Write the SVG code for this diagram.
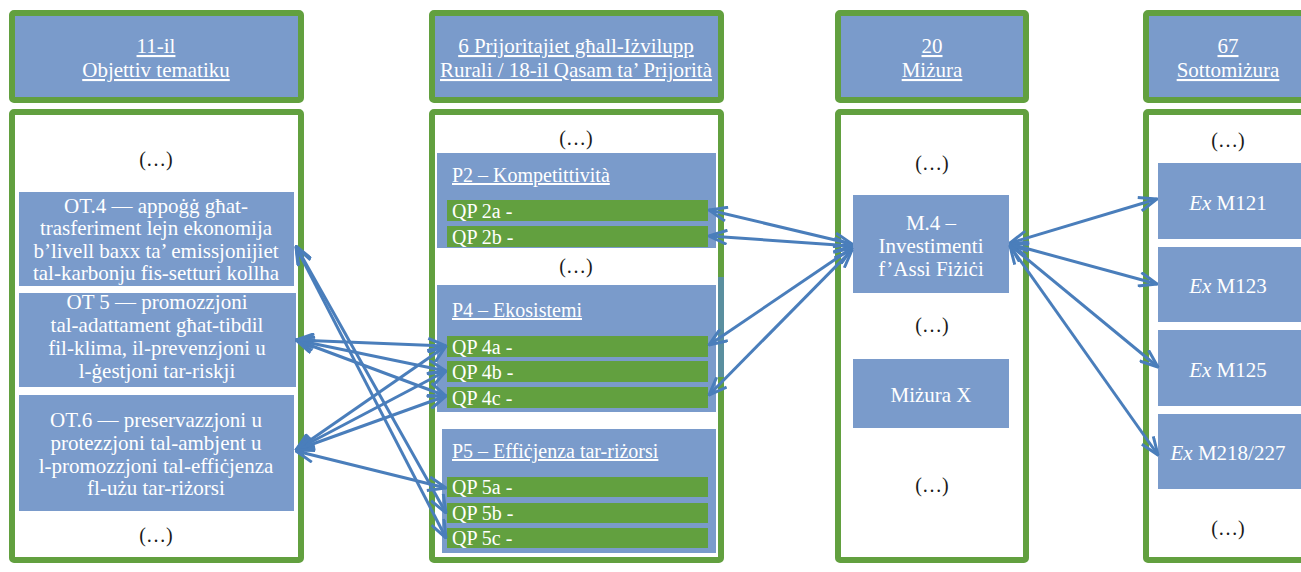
<svg xmlns="http://www.w3.org/2000/svg" width="1301" height="572" viewBox="0 0 1301 572">
<defs>
<style>
.hdr{fill:#7a9bcb;stroke:#62a03f;stroke-width:6}
.pan{fill:#ffffff;stroke:#62a03f;stroke-width:6}
.blu{fill:#7a9bcb}
.bar{fill:#62a03f}
.t{font-family:"Liberation Serif","Times New Roman",serif;font-size:21px;fill:#ffffff}
.c{text-anchor:middle}
.u{text-decoration:underline}
.q{font-family:"Liberation Serif","Times New Roman",serif;font-size:20px;fill:#ffffff}
.d{font-family:"Liberation Serif","Times New Roman",serif;font-size:20px;fill:#1a1a1a;text-anchor:middle}
.cn{stroke:#4a7ebb;stroke-width:3;fill:none;marker-start:url(#ah);marker-end:url(#ah)}
</style>
<marker id="ah" viewBox="0 0 20 16" refX="19" refY="8" markerWidth="20" markerHeight="16" markerUnits="userSpaceOnUse" orient="auto-start-reverse">
<path d="M1,1 L19,8 L1,15" fill="none" stroke="#4a7ebb" stroke-width="3"/>
</marker>
</defs>
<rect width="1301" height="572" fill="#ffffff"/>

<g id="col1">
<rect class="hdr" x="12" y="13" width="289" height="87" rx="2"/>
<text class="t c u" x="156" y="53">11-il</text>
<text class="t c u" x="156" y="77">Objettiv tematiku</text>
<rect class="pan" x="12" y="112" width="289" height="448" rx="2"/>
<text class="d" x="156" y="166">(…)</text>
<text class="d" x="156" y="542">(…)</text>
</g>
<g id="ot4">
<rect class="blu" x="19" y="192" width="275" height="94"/>
<text class="t c" x="156" y="213">OT.4 — appoġġ għat-</text>
<text class="t c" x="156" y="235">trasferiment lejn ekonomija</text>
<text class="t c" x="156" y="258">b’livell baxx ta’ emissjonijiet</text>
<text class="t c" x="156" y="280">tal-karbonju fis-setturi kollha</text>
</g>
<g id="ot5">
<rect class="blu" x="19" y="293" width="277" height="94"/>
<text class="t c" x="157" y="309">OT 5 — promozzjoni</text>
<text class="t c" x="157" y="332">tal-adattament għat-tibdil</text>
<text class="t c" x="157" y="355">fil-klima, il-prevenzjoni u</text>
<text class="t c" x="157" y="378">l-ġestjoni tar-riskji</text>
</g>
<g id="ot6">
<rect class="blu" x="19" y="395" width="275" height="116"/>
<text class="t c" x="156" y="427">OT.6 — preservazzjoni u</text>
<text class="t c" x="156" y="450">protezzjoni tal-ambjent u</text>
<text class="t c" x="156" y="473">l-promozzjoni tal-effiċjenza</text>
<text class="t c" x="156" y="495">fl-użu tar-riżorsi</text>
</g>

<g id="col2">
<rect class="hdr" x="432" y="13" width="289" height="87" rx="2"/>
<text class="t c u" x="576" y="53">6 Prijoritajiet għall-Iżvilupp </text>
<text class="t c u" x="576" y="77">Rurali / 18-il Qasam ta’ Prijorità</text>
<rect class="pan" x="432" y="112" width="289" height="448" rx="2"/>
<line x1="721" y1="277" x2="721" y2="377" stroke="#5a8f9f" stroke-width="6"/>
<text class="d" x="576" y="145">(…)</text>
<text class="d" x="576" y="273">(…)</text>
</g>
<g id="p2">
<rect class="blu" x="437" y="153" width="279" height="95"/>
<text class="q u" x="452" y="182">P2 – Kompetittività</text>
<rect class="bar" x="447" y="200" width="261" height="21"/>
<text class="q" x="452" y="218">QP 2a -</text>
<rect class="bar" x="447" y="226" width="261" height="21"/>
<text class="q" x="452" y="244">QP 2b -</text>
</g>
<g id="p4">
<rect class="blu" x="437" y="285" width="279" height="127"/>
<text class="q u" x="452" y="317">P4 – Ekosistemi</text>
<rect class="bar" x="447" y="336" width="261" height="21"/>
<text class="q" x="452" y="354">QP 4a -</text>
<rect class="bar" x="447" y="361" width="261" height="21"/>
<text class="q" x="452" y="379">QP 4b -</text>
<rect class="bar" x="447" y="387" width="261" height="21"/>
<text class="q" x="452" y="405">QP 4c -</text>
</g>
<g id="p5">
<rect class="blu" x="442" y="429" width="274" height="124"/>
<text class="q u" x="452" y="458">P5 – Effiċjenza tar-riżorsi</text>
<rect class="bar" x="447" y="477" width="261" height="20"/>
<text class="q" x="452" y="494">QP 5a -</text>
<rect class="bar" x="447" y="503" width="261" height="20"/>
<text class="q" x="452" y="520">QP 5b -</text>
<rect class="bar" x="447" y="528" width="261" height="20"/>
<text class="q" x="452" y="545">QP 5c -</text>
</g>

<g id="col3">
<rect class="hdr" x="838" y="13" width="188" height="87" rx="2"/>
<text class="t c u" x="932" y="53">20</text>
<text class="t c u" x="932" y="77">Miżura</text>
<rect class="pan" x="838" y="112" width="188" height="448" rx="2"/>
<text class="d" x="932" y="170">(…)</text>
<text class="d" x="932" y="332">(…)</text>
<text class="d" x="932" y="492">(…)</text>
</g>
<g id="m4">
<rect class="blu" x="853" y="195" width="156" height="98"/>
<text class="t c" x="931" y="230">M.4 –</text>
<text class="t c" x="931" y="253">Investimenti</text>
<text class="t c" x="931" y="276">f’Assi Fiżiċi</text>
</g>
<g id="mx">
<rect class="blu" x="853" y="359" width="156" height="69"/>
<text class="t c" x="931" y="402">Miżura X</text>
</g>

<g id="col4">
<rect class="hdr" x="1146" y="13" width="188" height="87" rx="2"/>
<text class="t c u" x="1228" y="53">67</text>
<text class="t c u" x="1228" y="77">Sottomiżura</text>
<rect class="pan" x="1146" y="112" width="188" height="448" rx="2"/>
<text class="d" x="1228" y="147">(…)</text>
<text class="d" x="1228" y="535">(…)</text>
</g>
<g id="m121">
<rect class="blu" x="1158" y="163" width="150" height="76"/>
<text class="t c" x="1228" y="210"><tspan font-style="italic">Ex</tspan> M121</text>
</g>
<g id="m123">
<rect class="blu" x="1158" y="247" width="150" height="75"/>
<text class="t c" x="1228" y="293"><tspan font-style="italic">Ex</tspan> M123</text>
</g>
<g id="m125">
<rect class="blu" x="1158" y="330" width="150" height="76"/>
<text class="t c" x="1228" y="377"><tspan font-style="italic">Ex</tspan> M125</text>
</g>
<g id="m218">
<rect class="blu" x="1158" y="414" width="150" height="75"/>
<text class="t c" x="1228" y="460"><tspan font-style="italic">Ex</tspan> M218/227</text>
</g>

<g id="connectors">
<line class="cn" x1="296" y1="246" x2="446" y2="513"/>
<line class="cn" x1="296" y1="247" x2="446" y2="538"/>
<line class="cn" x1="296" y1="340" x2="446" y2="346"/>
<line class="cn" x1="296" y1="340" x2="446" y2="371"/>
<line class="cn" x1="296" y1="340" x2="446" y2="396"/>
<line class="cn" x1="296" y1="450" x2="446" y2="346"/>
<line class="cn" x1="296" y1="450" x2="446" y2="371"/>
<line class="cn" x1="296" y1="450" x2="446" y2="396"/>
<line class="cn" x1="296" y1="451" x2="446" y2="488"/>
<line class="cn" x1="709" y1="210" x2="852" y2="244"/>
<line class="cn" x1="709" y1="236" x2="852" y2="246"/>
<line class="cn" x1="709" y1="345" x2="852" y2="248"/>
<line class="cn" x1="709" y1="395" x2="852" y2="250"/>
<line class="cn" x1="1010" y1="243" x2="1157" y2="199"/>
<line class="cn" x1="1010" y1="244" x2="1157" y2="284"/>
<line class="cn" x1="1010" y1="245" x2="1158" y2="367"/>
<line class="cn" x1="1010" y1="246" x2="1158" y2="455"/>
</g>
</svg>
